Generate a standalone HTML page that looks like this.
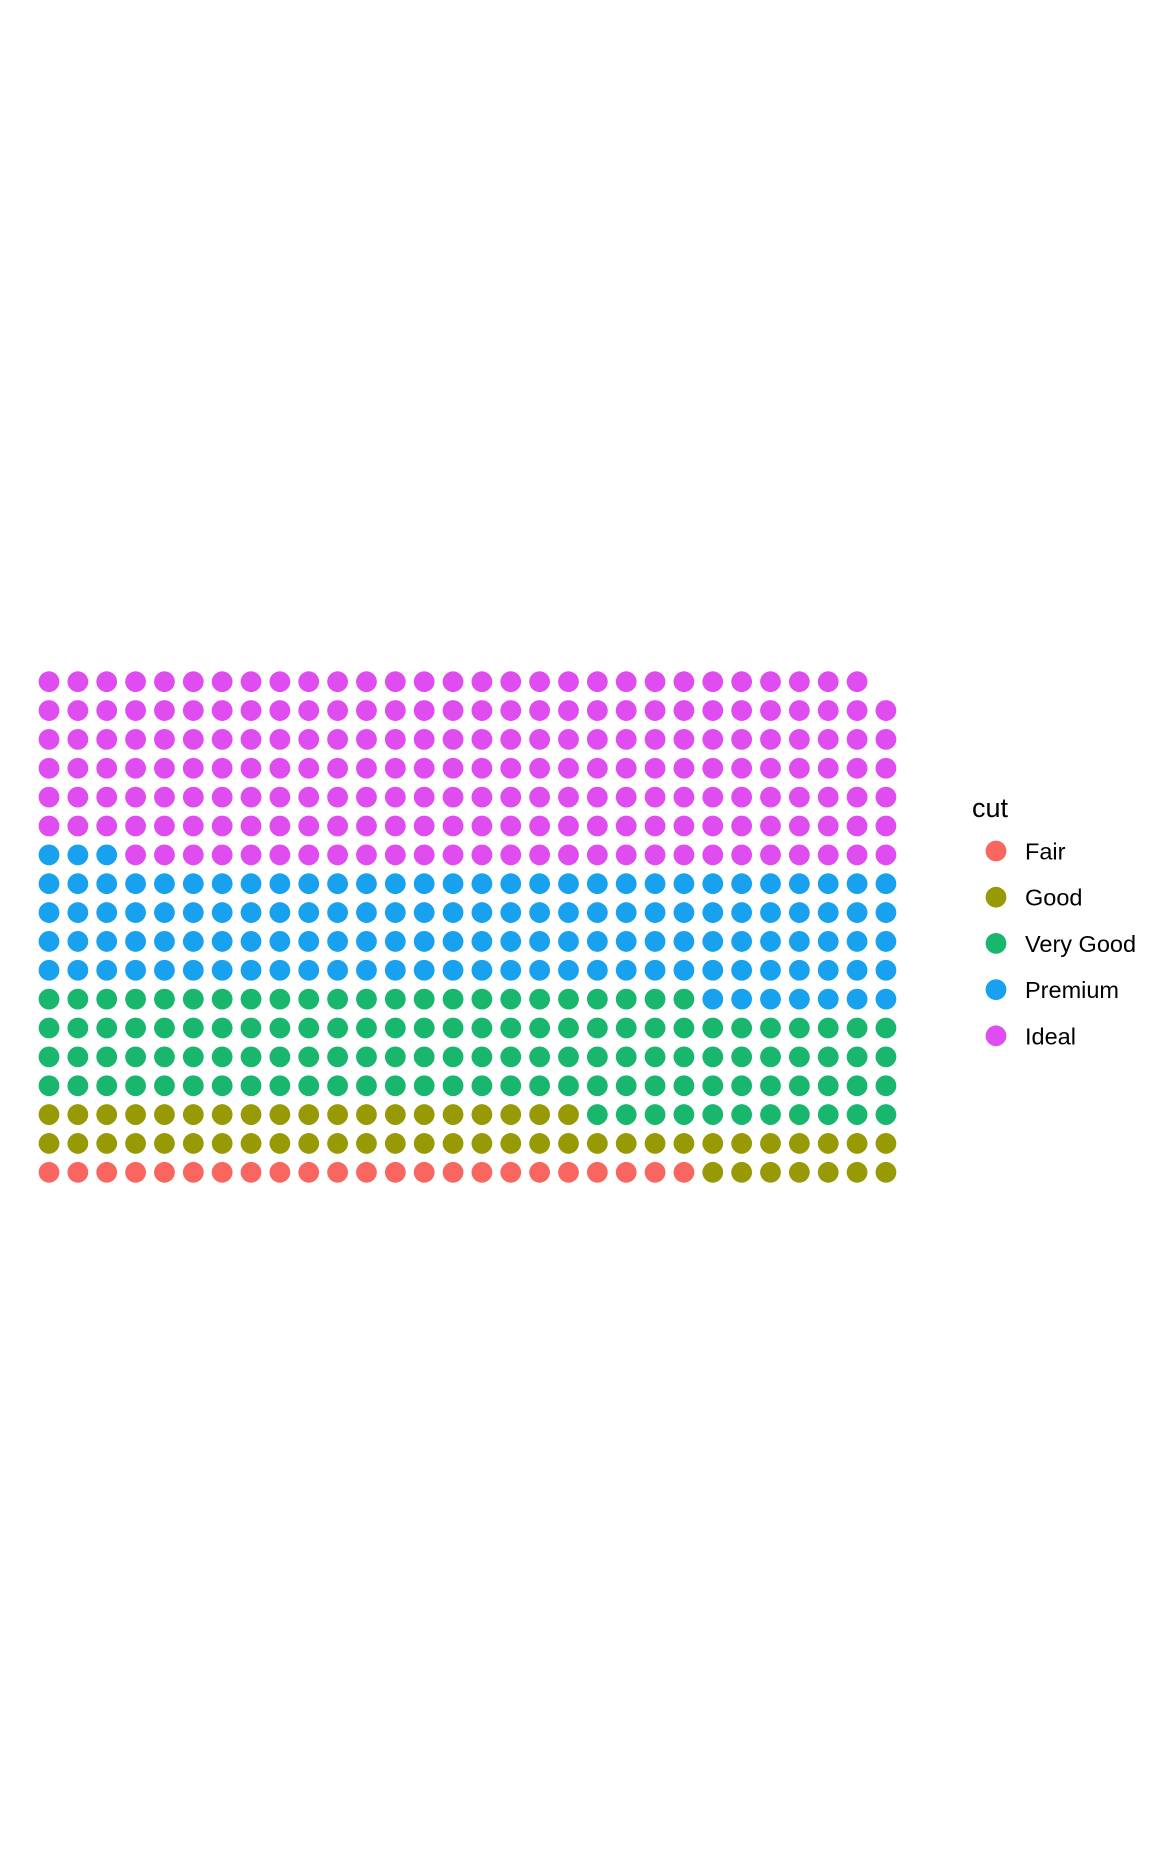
<!DOCTYPE html>
<html><head><meta charset="utf-8"><style>
html,body{margin:0;padding:0;background:#fff;}
svg{display:block;font-family:"Liberation Sans",Arial,sans-serif;}
</style></head><body>
<svg id="chart" width="1152" height="1863" viewBox="0 0 1152 1863">
<rect width="1152" height="1863" fill="#fff"/>
<g id="dots"></g>
<g id="legend">
<text x="972" y="817" font-size="27" fill="#000">cut</text>
</g>
</svg>
<script>
const categories = ["Fair","Good","Very Good","Premium","Ideal"];
const counts = [23, 56, 124, 130, 206];
const colors = ["#F8766D","#A3A500","#00BF7D","#00B0F6","#E76BF3"];
const nCols = 30;
const x0 = 49, y0 = 1172.3, step = 28.86, r = 10.4;
function xPos(col){return x0 + col*step;}
function yPos(row){return y0 - row*step;}
const fills = ["#F8665F","#979A04","#19B66E","#17A1EF","#DF4CEF"];
const dots = document.getElementById('dots');
const NS = "http://www.w3.org/2000/svg";
let idx = 0;
categories.forEach((c,ci)=>{
  for(let k=0;k<counts[ci];k++){
    const col = idx % nCols, row = Math.floor(idx / nCols);
    const el = document.createElementNS(NS,'circle');
    el.setAttribute('cx', xPos(col));
    el.setAttribute('cy', yPos(row));
    el.setAttribute('r', r);
    el.setAttribute('fill', fills[ci]);
    
    
    dots.appendChild(el);
    idx++;
  }
});
const legend = document.getElementById('legend');
categories.forEach((c,ci)=>{
  const g = document.createElementNS(NS,'g');
  
  
  const cy = 851 + ci*46.2;
  const k = document.createElementNS(NS,'circle');
  k.setAttribute('cx', 996); k.setAttribute('cy', cy); k.setAttribute('r', 10.4);
  k.setAttribute('fill', fills[ci]);
  
  
  const t = document.createElementNS(NS,'text');
  t.setAttribute('x', 1025); t.setAttribute('y', cy + 8.5);
  t.setAttribute('font-size', 23.5); t.setAttribute('fill', '#000');
  t.textContent = c;
  
  
  g.appendChild(k); g.appendChild(t); legend.appendChild(g);
});
</script>
</body></html>
